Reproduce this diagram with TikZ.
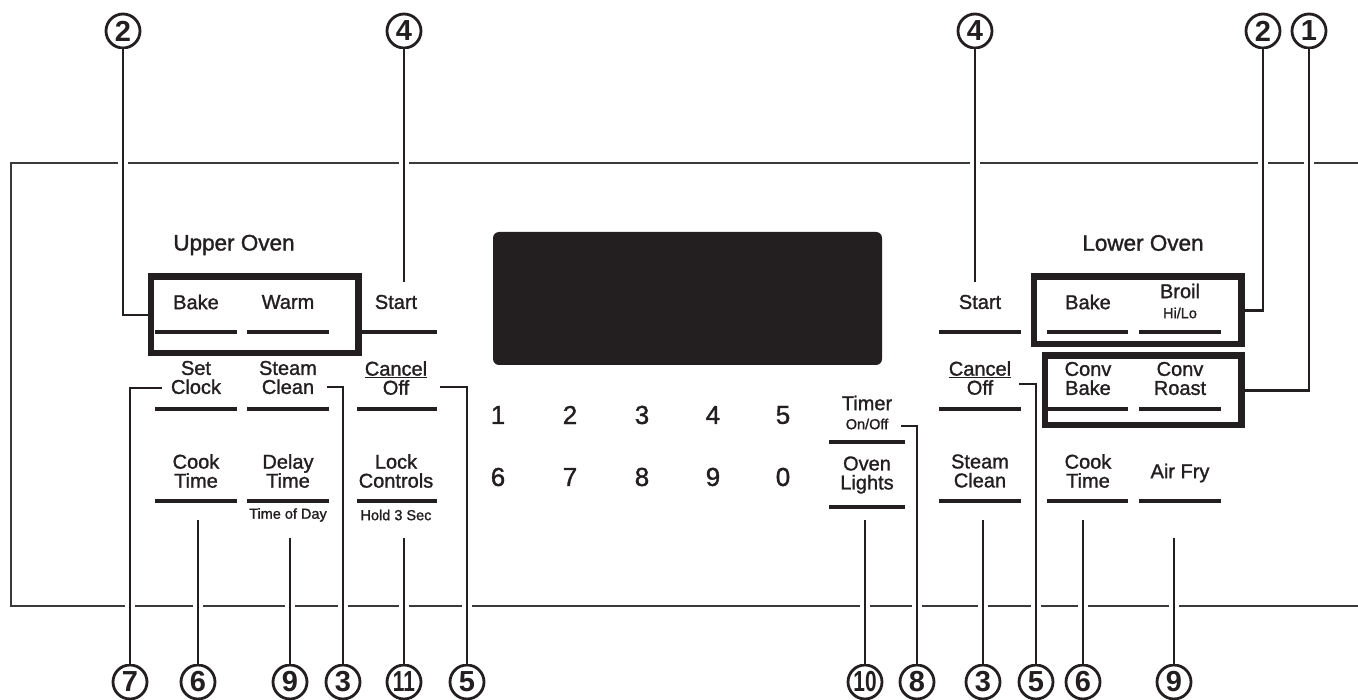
\documentclass[tikz,border=0pt]{standalone}
\usepackage{fontspec}
\setmainfont{Liberation Sans}
\newfontfamily\medfont{Liberation Sans}[FakeBold=1.3]
\definecolor{ink}{HTML}{231F20}
\definecolor{panel}{HTML}{3A3A3A}
\begin{document}
\begin{tikzpicture}[x=1pt,y=-1pt,
  every node/.style={text=ink},
  btn/.style={align=center,inner sep=0pt,font=\medfont\fontsize{20}{19}\selectfont},
  small/.style={inner sep=0pt,font=\medfont\fontsize{14.5}{14}\selectfont},
  title/.style={inner sep=0pt,font=\medfont\fontsize{22.5}{22}\selectfont},
  digit/.style={inner sep=0pt,font=\medfont\fontsize{26}{26}\selectfont},
  ulin/.style={line width=3.5pt,draw=ink},
  grp/.style={draw=ink,line width=4.5pt,inner sep=0pt,rectangle},
  callout/.style={circle,draw=ink,line width=2.8pt,minimum size=34pt,inner sep=0pt,text=ink,font=\bfseries\fontsize{29}{29}\selectfont},
  leader/.style={draw=ink,line width=2.5pt,preaction={draw=white,line width=10pt}},
]
\useasboundingbox (0,0) rectangle (1358,700);
% panel outline
\draw[panel,line width=1.6pt] (1358,163) -- (11,163) -- (11,606) -- (1358,606);

% callouts
\node[callout] (c2u) at (123,31) {2};
\node[callout] (c4u) at (404,31) {4};
\node[callout] (c4l) at (975,31) {4};
\node[callout] (c2l) at (1263,31) {2};
\node[callout] (c1)  at (1309,31) {1};
\node[callout] (c7)  at (130,682) {7};
\node[callout] (c6u) at (198,682) {6};
\node[callout] (c9u) at (290,682) {9};
\node[callout] (c3u) at (343,682) {3};
\node[callout] (c11) at (404,682) {\scalebox{0.72}[1]{11}};
\node[callout] (c5u) at (467,682) {5};
\node[callout] (c10) at (865,682) {\scalebox{0.72}[1]{10}};
\node[callout] (c8)  at (917,682) {8};
\node[callout] (c3l) at (983,682) {3};
\node[callout] (c5l) at (1036,682) {5};
\node[callout] (c6l) at (1083,682) {6};
\node[callout] (c9l) at (1174,682) {9};

% group boxes (as nodes for leader ends)
\node[grp,minimum width=205pt,minimum height=74pt] (ubox) at (254.5,315) {};
\node[grp,minimum width=205pt,minimum height=65pt] (lbox1) at (1137.5,310.5) {};
\node[grp,minimum width=194pt,minimum height=67pt] (lbox2) at (1143,390.5) {};

% leader start coordinates
\coordinate (s4u) at (404,282);
\coordinate (s4l) at (975,282);
\coordinate (s7) at (162,388);
\coordinate (s6u) at (198,520);
\coordinate (s9u) at (290,538);
\coordinate (s3u) at (327,387);
\coordinate (s11) at (404,538);
\coordinate (s5u) at (440,387);
\coordinate (s10) at (865,520);
\coordinate (s8) at (901,426);
\coordinate (s3l) at (983,520);
\coordinate (s5l) at (1019,384);
\coordinate (s6l) at (1083,520);
\coordinate (s9l) at (1174,538);

% leaders
\draw[leader] (c2u) |- (ubox.west);
\draw[leader] (c4u) -- (s4u);
\draw[leader] (c4l) -- (s4l);
\draw[leader] (lbox1.east) -| (c2l);
\draw[leader] (lbox2.east) -| (c1);
\draw[leader] (s7) -| (c7);
\draw[leader] (s6u) -- (c6u);
\draw[leader] (s9u) -- (c9u);
\draw[leader] (s3u) -| (c3u);
\draw[leader] (s11) -- (c11);
\draw[leader] (s5u) -| (c5u);
\draw[leader] (s10) -- (c10);
\draw[leader] (s8) -| (c8);
\draw[leader] (s3l) -- (c3l);
\draw[leader] (s5l) -| (c5l);
\draw[leader] (s6l) -- (c6l);
\draw[leader] (s9l) -- (c9l);

% redraw boxes on top
\draw[ink,line width=4.5pt] (ubox.north west) rectangle (ubox.south east);
\draw[ink,line width=4.5pt] (lbox1.north west) rectangle (lbox1.south east);
\draw[ink,line width=4.5pt] (lbox2.north west) rectangle (lbox2.south east);

% display
\node[fill=ink,rounded corners=6pt,minimum width=389pt,minimum height=133pt,inner sep=0pt] (disp) at (687.5,298.5) {};

% titles
\node[title] (tup) at (234,245) {Upper Oven};
\node[title] (tlo) at (1143,243) {Lower Oven};

% upper oven buttons
\node[btn] (bake1) at (196,302) {Bake};
\node[btn] (warm) at (288,302) {Warm};
\node[btn] (start1) at (396,302) {Start};
\node[btn] (setclk) at (196,377.5) {Set\\Clock};
\node[btn] (steam1) at (288,377.5) {Steam\\Clean};
\node[btn] (cancel1) at (396,378) {\underline{Cancel}\\Off};
\node[btn] (cook1) at (196,471) {Cook\\Time};
\node[btn] (delay) at (288,471) {Delay\\Time};
\node[btn] (lock) at (396,471) {Lock\\Controls};
\node[small] (tod) at (288,515) {Time of Day};
\node[small] (hold) at (396,515) {Hold 3 Sec};
\foreach \y in {332,409,501}{
  \draw[ulin] (155,\y) -- (237,\y);
  \draw[ulin] (247,\y) -- (329,\y);
  \draw[ulin] (357,\y) -- (437,\y);
}

% keypad
\node[digit] (k1) at (498,415) {1};
\node[digit] (k2) at (570,415) {2};
\node[digit] (k3) at (642,415) {3};
\node[digit] (k4) at (713,415) {4};
\node[digit] (k5) at (783,415) {5};
\node[digit] (k6) at (498,477) {6};
\node[digit] (k7) at (570,477) {7};
\node[digit] (k8) at (642,477) {8};
\node[digit] (k9) at (713,477) {9};
\node[digit] (k0) at (783,477) {0};

% timer / lights
\node[btn] (timer) at (867,403) {Timer};
\node[small] (onoff) at (867,424) {On/Off};
\draw[ulin] (829,442) -- (905,442);
\node[btn] (lights) at (867,475) {Oven\\Lights};
\draw[ulin] (829,507) -- (905,507);

% lower oven left column
\node[btn] (start2) at (980,302) {Start};
\node[btn] (cancel2) at (980,378) {\underline{Cancel}\\Off};
\node[btn] (steam2) at (980,471) {Steam\\Clean};
\foreach \y in {332,409,501}{
  \draw[ulin] (939,\y) -- (1021,\y);
}

% lower oven group buttons
\node[btn] (bake2) at (1088,302) {Bake};
\node[btn] (broil) at (1180,291) {Broil};
\node[small] (hilo) at (1180,313) {Hi/Lo};
\node[btn] (cbake) at (1088,378.5) {Conv\\Bake};
\node[btn] (croast) at (1180,378.5) {Conv\\Roast};
\node[btn] (cook2) at (1088,471) {Cook\\Time};
\node[btn] (airfry) at (1180,473) {Air Fry};
\foreach \y in {332,409,501}{
  \draw[ulin] (1047,\y) -- (1128,\y);
  \draw[ulin] (1139,\y) -- (1221,\y);
}
\end{tikzpicture}
\end{document}
